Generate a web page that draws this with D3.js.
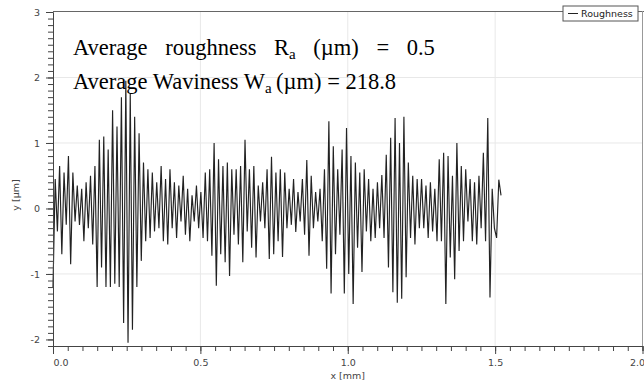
<!DOCTYPE html>
<html>
<head>
<meta charset="utf-8">
<script src="https://cdn.jsdelivr.net/npm/d3@7"></script>
<style>
  body { margin: 0; background: #fff; }
  .tick text { font-family: "DejaVu Sans", sans-serif; font-size: 9.5px; fill: #444; }
  .annot { font-family: "Liberation Serif", "Times New Roman", serif; font-size: 22.5px; fill: #000; }
</style>
</head>
<body>
<div id="vis"></div>
<script>
var width = 644,
    height = 385;

// roughness profile, peaks and valleys (µm)
var profile = [
  -1.2, 0.45, -0.35, 0.65, -0.7, 0.55, -0.25, 0.8, -0.85,
  0.55, -0.2, 0.35, -0.25, 0.3, -0.5, 0.4, -0.3,
  0.5, -0.55, 0.65, -1.2, 1.05, -0.9, 1.1, -1.2,
  0.9, -1.2, 1.5, -1.15, 1.25, -1.2,
  1.7, -1.75, 1.95, -2.05, 1.75, -1.85, 1.4,
  -1.2, 1.15, -0.8, 0.7, -0.5, 0.6, -0.45,
  0.55, -0.35, 0.4, -0.3, 0.65, -0.5, 0.45, -0.55, 0.6, -0.3, 0.4, -0.45, 0.35,
  -0.2, 0.5, -0.4, 0.3, -0.5, 0.2, -0.2, 0.35, -0.3, 0.25,
  -0.45, 0.55, -0.5, 0.6, -0.72, 1.0,
  -1.18, 0.75, -0.7, 0.65, -0.82, 0.7, -1.03, 0.6,
  -0.4, 0.6, -0.55,
  0.65, -0.82, 1.05, -0.35, 0.6, -0.6, 0.65, -0.75,
  0.35, -0.2, 0.4,
  -0.3, 0.6, -0.77, 0.79, -0.7, 0.55, -0.5, 0.6,
  -0.74, 0.55, -0.3,
  0.3, -0.25, 0.45, -0.36, 0.25, -0.2,
  0.45, -0.4, 0.74, -0.72, 0.5, -0.3,
  0.25, -0.2, 0.3,
  -0.5, 0.6, -0.92, 1.33,
  -1.3, 0.95, -0.7, 0.6, -0.4,
  0.9, -1.3, 1.23, -1.0, 0.8, -1.46, 0.7, -0.6,
  0.55, -0.97, 0.6, -0.35,
  0.45, -0.5, 0.3, -0.45, 0.4, -0.3,
  0.51, -0.45, 0.82, -0.9,
  1.08, -1.28, 1.38, -1.44, 1.0, -1.38, 1.4, -1.05,
  0.7, -0.45, 0.5, -0.55, 0.45, -0.3,
  0.45, -0.3, 0.35, -0.45, 0.4, -0.35, 0.3, -0.5,
  0.75, -0.5, 0.85, -1.46, 0.8, -0.75, 0.5,
  -1.08, 1.0, -0.65, 0.65, -0.5, 0.6,
  -0.2, 0.45, -0.5, 0.4, -0.55, 0.5, -0.3,
  0.85, -0.5, 1.38, -1.36,
  0.3, -0.3, -0.45, 0.44, 0.2
];
var profileEnd = 1.52;   // mm, last sample
var xTicks = [0, 0.5, 1.0, 1.5, 2.0];
var xTickLabels = ["0.0", "0.5", "1.0", "1.5", "2.0"];
var yTicks = [-2, -1, 0, 1, 2, 3];
var yTickLabels = ["-2", "-1", "0", "1", "2", "3"];
var seriesName = "Roughness";
var raValue = "0.5",
    waValue = "218.8";

var svg = d3.select("#vis").append("svg")
    .attr("width", width)
    .attr("height", height);

var x = d3.scaleLinear().domain([0, 2.0]).range([53, 642.5]);
var y = d3.scaleLinear().domain([-2.1, 3.0]).range([346, 12]);
var step = profileEnd / (profile.length - 1);

//--------GRID--------//
svg.append("g").selectAll("line")
    .data([-1, 1, 2])
    .enter().append("line")
    .attr("x1", x(0)).attr("x2", x(2))
    .attr("y1", y).attr("y2", y)
    .style("stroke", "#e8e8e8");

svg.append("g").selectAll("line")
    .data([0.5, 1.0, 1.5])
    .enter().append("line")
    .attr("x1", x).attr("x2", x)
    .attr("y1", y(3)).attr("y2", y(-2.1))
    .style("stroke", "#e8e8e8");

// top and right frame
svg.append("line")
    .attr("x1", x(0)).attr("x2", width)
    .attr("y1", 11.5).attr("y2", 11.5)
    .style("stroke", "#666");
svg.append("line")
    .attr("x1", x(2)).attr("x2", x(2))
    .attr("y1", 11).attr("y2", y(-2.1))
    .style("stroke", "#999");

//--------PROFILE--------//
var line = d3.line()
    .x(function(d, i) { return x(i * step); })
    .y(function(d) { return y(d); });

svg.append("path")
    .datum(profile)
    .attr("d", line)
    .style("fill", "none")
    .style("stroke", "#222")
    .style("stroke-width", 1.15);

//--------AXES--------//
var xMinor = d3.range(0, 2.0001, 0.05);
svg.append("g")
    .attr("transform", "translate(0," + y(-2.1) + ")")
    .call(d3.axisBottom(x).tickValues(xMinor).tickSize(5).tickFormat(""))
    .call(function(g) { g.select(".domain").style("stroke", "#444"); g.selectAll("line").style("stroke", "#444"); });

var xAxis = svg.append("g")
    .attr("transform", "translate(0," + y(-2.1) + ")")
    .call(d3.axisBottom(x).tickValues(xTicks).tickSize(8).tickPadding(5)
        .tickFormat(function(d, i) { return xTickLabels[i]; }));
xAxis.select(".domain").remove();
xAxis.selectAll("line").style("stroke", "#444");
xAxis.selectAll("text")
    .attr("text-anchor", function(d, i) { return i === 0 ? "start" : (i === xTicks.length - 1 ? "end" : "middle"); })
    .attr("dx", function(d, i) { return i === xTicks.length - 1 ? 2 : 0; });

var yMinor = d3.range(-2, 3.0001, 0.1);
svg.append("g")
    .attr("transform", "translate(" + x(0) + ",0)")
    .call(d3.axisLeft(y).tickValues(yMinor).tickSize(5).tickFormat(""))
    .call(function(g) { g.select(".domain").style("stroke", "#444"); g.selectAll("line").style("stroke", "#444"); });

var yAxis = svg.append("g")
    .attr("transform", "translate(" + x(0) + ",0)")
    .call(d3.axisLeft(y).tickValues(yTicks).tickSize(7).tickPadding(6)
        .tickFormat(function(d, i) { return yTickLabels[i]; }));
yAxis.select(".domain").remove();
yAxis.selectAll("line").style("stroke", "#444");

svg.append("text")
    .attr("x", x(1.0))
    .attr("y", 379)
    .attr("text-anchor", "middle")
    .style("font-family", "DejaVu Sans, sans-serif")
    .style("font-size", "9.5px")
    .style("fill", "#444")
    .text("x [mm]");

svg.append("text")
    .attr("transform", "translate(19,195) rotate(-90)")
    .attr("text-anchor", "middle")
    .style("font-family", "DejaVu Sans, sans-serif")
    .style("font-size", "9.5px")
    .style("fill", "#444")
    .text("y [µm]");

//--------LEGEND--------//
var legend = svg.append("g").attr("transform", "translate(563,6)");
legend.append("rect")
    .attr("width", 75).attr("height", 15)
    .style("fill", "#fff").style("stroke", "#555");
legend.append("line")
    .attr("x1", 5).attr("x2", 15).attr("y1", 7.5).attr("y2", 7.5)
    .style("stroke", "#222");
legend.append("text")
    .attr("x", 18).attr("y", 11)
    .style("font-family", "DejaVu Sans, sans-serif")
    .style("font-size", "9.5px")
    .style("fill", "#222")
    .text(seriesName);

//--------ANNOTATION--------//
var t1 = svg.append("text").attr("class", "annot")
    .attr("x", 73).attr("y", 55)
    .style("word-spacing", "12px");
t1.append("tspan").text("Average roughness R");
t1.append("tspan").attr("dy", 4).style("font-size", "15px").text("a");
t1.append("tspan").attr("dy", -4).text(" (µm) = " + raValue);

var t2 = svg.append("text").attr("class", "annot")
    .attr("x", 73).attr("y", 89);
t2.append("tspan").text("Average Waviness W");
t2.append("tspan").attr("dy", 4).style("font-size", "15px").text("a");
t2.append("tspan").attr("dy", -4).text("\u2009(µm) = " + waValue);
</script>
</body>
</html>
